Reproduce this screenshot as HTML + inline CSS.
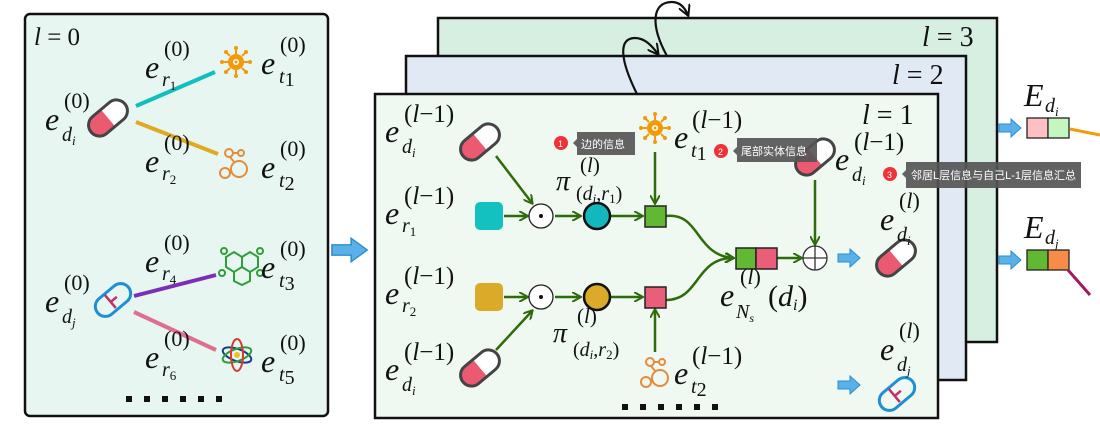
<!DOCTYPE html>
<html><head><meta charset="utf-8"><style>
html,body{margin:0;padding:0;background:#fff;width:1100px;height:430px;overflow:hidden}
svg text{font-family:"Liberation Serif",serif;font-style:italic;fill:#111}
.e{font-size:32px}.sb{font-size:20px}.sp{font-size:22px;font-style:normal}.n{font-style:normal}
.tip{font-family:"Liberation Sans","Noto Sans CJK SC",sans-serif;font-style:normal;font-size:11px;fill:#fff}
</style></head><body>
<svg width="1100" height="430" viewBox="0 0 1100 430" xmlns="http://www.w3.org/2000/svg">
<defs>
<marker id="ga" markerWidth="10" markerHeight="10" refX="8" refY="5" orient="auto" markerUnits="userSpaceOnUse"><path d="M0,0 L9,5 L0,10" fill="none" stroke="#2e6b0a" stroke-width="2"/></marker>
<marker id="ka" markerWidth="12" markerHeight="12" refX="10" refY="6" orient="auto" markerUnits="userSpaceOnUse"><path d="M0,0 L11,6 L0,12" fill="none" stroke="#111" stroke-width="2"/></marker>
<g id="pill"><g transform="rotate(-40)"><rect x="-22" y="-11" width="44" height="22" rx="11" fill="#fff"/><path d="M0,-10 L-11,-10 A10,10 0 0 0 -11,10 L0,10Z" fill="#ec5a72"/><rect x="-22" y="-11" width="44" height="22" rx="11" fill="none" stroke="#444" stroke-width="3"/></g></g>
<g id="bpill"><g transform="rotate(-40)"><rect x="-20" y="-10" width="40" height="20" rx="10" fill="none" stroke="#1f8fd4" stroke-width="3"/><path d="M-3,-9 V8 M-3,0 H5" stroke="#c0306a" stroke-width="2.5"/></g></g>
<g id="virus" fill="#f39a0b"><circle r="8"/><circle r="3" fill="#fff"/><circle r="1.5"/><g stroke="#f39a0b" stroke-width="2"><path d="M0,-8V-14M0,8V14M-8,0H-14M8,0H14M6,6L10,10M-6,6L-10,10M6,-6L10,-10M-6,-6L-10,-10"/></g><circle cx="0" cy="-14" r="2"/><circle cx="0" cy="14" r="2"/><circle cx="-14" cy="0" r="2"/><circle cx="14" cy="0" r="2"/><circle cx="10" cy="10" r="2"/><circle cx="-10" cy="10" r="2"/><circle cx="10" cy="-10" r="2"/><circle cx="-10" cy="-10" r="2"/></g>
<g id="mol" fill="none" stroke="#e38d3c" stroke-width="2"><circle cx="-6" cy="-10" r="4"/><circle cx="6" cy="-10" r="3"/><circle cx="4" cy="6" r="8"/><circle cx="-10" cy="10" r="5"/><path d="M-2,-10H3M-5,-6L0,0M-5,10H-4"/></g>
<g id="blue"><path d="M0,-4H12V-9L22,0L12,9V4H0Z" fill="#5ab1e8" stroke="#2a8ed0" stroke-width="1"/></g>
</defs>

<!-- left panel -->
<rect x="25" y="14" width="303" height="402" rx="5" fill="#e8f6f2" stroke="#111" stroke-width="2.5"/>
<text x="34" y="45" style="font-size:25px">l<tspan class="n"> = 0</tspan></text>
<line x1="136" y1="106" x2="215" y2="72" stroke="#12bfbf" stroke-width="4"/>
<line x1="136" y1="122" x2="218" y2="154" stroke="#ddaa22" stroke-width="4"/>
<line x1="134" y1="296" x2="216" y2="275" stroke="#7a2fb5" stroke-width="4"/>
<line x1="134" y1="312" x2="216" y2="350" stroke="#dd7090" stroke-width="4"/>
<use href="#pill" x="108" y="118"/>
<use href="#bpill" x="113" y="300"/>
<use href="#virus" x="236" y="62"/>
<use href="#mol" x="235" y="163"/>
<g fill="none" stroke="#2e9e3a" stroke-width="2" transform="translate(238,265)"><path d="M-12,-8 L-4,-13 L4,-8 L4,2 L-4,7 L-12,2Z M4,-8 L12,-13 L20,-8 L20,2 L12,7 L4,2 M-4,7 L-4,16 L4,20 L12,16 L12,7"/><circle cx="-14" cy="-14" r="3"/><circle cx="22" cy="-14" r="3"/><circle cx="-16" cy="8" r="3"/><circle cx="22" cy="8" r="3"/></g>
<g transform="translate(237,355)" fill="none" stroke-width="2"><ellipse rx="15" ry="6" stroke="#1b3a8a" transform="rotate(20)"/><ellipse rx="15" ry="6" stroke="#2e9e3a" transform="rotate(-20)"/><ellipse rx="6" ry="16" stroke="#d63b2b"/><circle r="3" fill="#f0c020" stroke="none"/></g>

<!-- left labels -->
<text x="45" y="130" class="e">e</text><text x="62" y="141" class="sb">d<tspan font-size="13" dy="4">i</tspan></text><text x="64" y="108" class="sp">(0)</text>
<text x="45" y="312" class="e">e</text><text x="62" y="323" class="sb">d<tspan font-size="13" dy="4">j</tspan></text><text x="64" y="290" class="sp">(0)</text>
<text x="145" y="78" class="e">e</text><text x="162" y="86" class="sb">r<tspan class="n" font-size="13" dy="4">1</tspan></text><text x="164" y="56" class="sp">(0)</text>
<text x="145" y="172" class="e">e</text><text x="162" y="180" class="sb">r<tspan class="n" font-size="13" dy="4">2</tspan></text><text x="164" y="150" class="sp">(0)</text>
<text x="145" y="272" class="e">e</text><text x="162" y="280" class="sb">r<tspan class="n" font-size="13" dy="4">4</tspan></text><text x="164" y="250" class="sp">(0)</text>
<text x="145" y="368" class="e">e</text><text x="162" y="376" class="sb">r<tspan class="n" font-size="13" dy="4">6</tspan></text><text x="164" y="346" class="sp">(0)</text>
<text x="261" y="74" class="e">e</text><text x="279" y="83" class="sb">t<tspan class="n" dy="3">1</tspan></text><text x="280" y="52" class="sp">(0)</text>
<text x="261" y="178" class="e">e</text><text x="279" y="187" class="sb">t<tspan class="n" dy="3">2</tspan></text><text x="280" y="156" class="sp">(0)</text>
<text x="261" y="278" class="e">e</text><text x="279" y="287" class="sb">t<tspan class="n" dy="3">3</tspan></text><text x="280" y="256" class="sp">(0)</text>
<text x="261" y="372" class="e">e</text><text x="279" y="381" class="sb">t<tspan class="n" dy="3">5</tspan></text><text x="280" y="350" class="sp">(0)</text>
<g fill="#111"><rect x="126" y="396" width="6" height="6"/><rect x="144" y="396" width="6" height="6"/><rect x="162" y="396" width="6" height="6"/><rect x="180" y="396" width="6" height="6"/><rect x="198" y="396" width="6" height="6"/><rect x="216" y="396" width="6" height="6"/></g>

<g transform="translate(332,250) scale(1.6,1.3)"><use href="#blue"/></g>

<!-- stacked layers -->
<rect x="438" y="18" width="559" height="324" fill="#d6efe1" stroke="#111" stroke-width="2.5"/>
<text x="922" y="46" style="font-size:28px">l<tspan class="n"> = 3</tspan></text>
<rect x="406" y="56" width="560" height="324" fill="#e1eaf4" stroke="#111" stroke-width="2.5"/>
<text x="892" y="84" style="font-size:28px">l<tspan class="n"> = 2</tspan></text>
<path d="M637,94 C620,60 618,38 635,38 C645,38 652,46 658,54" fill="none" stroke="#111" stroke-width="2.2" marker-end="url(#ka)"/>
<path d="M667,56 C650,25 652,2 672,2 C680,2 685,8 688,15" fill="none" stroke="#111" stroke-width="2.2" marker-end="url(#ka)"/>
<rect x="375" y="94" width="563" height="324" fill="#eff8f1" stroke="#111" stroke-width="2.5"/>
<text x="862" y="124" style="font-size:28px">l<tspan class="n"> = 1</tspan></text>

<!-- green arrows -->
<g stroke="#2e6b0a" stroke-width="2.5" fill="none" marker-end="url(#ga)">
<line x1="496" y1="156" x2="532" y2="203"/>
<line x1="504" y1="216" x2="527" y2="216"/>
<line x1="555" y1="216" x2="580" y2="216"/>
<line x1="611" y1="216" x2="642" y2="216"/>
<line x1="655" y1="152" x2="655" y2="203"/>
<line x1="496" y1="350" x2="532" y2="311"/>
<line x1="504" y1="297" x2="527" y2="297"/>
<line x1="555" y1="297" x2="580" y2="297"/>
<line x1="611" y1="297" x2="642" y2="297"/>
<line x1="655" y1="352" x2="655" y2="310"/>
<path d="M666,216 C700,212 695,255 733,258"/>
<path d="M666,300 C700,300 695,258 733,258"/>
<line x1="777" y1="258" x2="801" y2="258"/>
<line x1="815" y1="180" x2="815" y2="244"/>
</g>
<rect x="475" y="202" width="28" height="28" rx="5" fill="#14c1c1"/>
<rect x="475" y="283" width="28" height="28" rx="5" fill="#dbaa28"/>
<g fill="#fff" stroke="#222" stroke-width="1.3"><circle cx="541" cy="216" r="12"/><circle cx="541" cy="297" r="12"/></g>
<circle cx="541" cy="216" r="2" fill="#111"/><circle cx="541" cy="297" r="2" fill="#111"/>
<circle cx="597" cy="216" r="13" fill="#12b8bd" stroke="#111" stroke-width="2.5"/>
<circle cx="597" cy="297" r="13" fill="#dbaa28" stroke="#111" stroke-width="2.5"/>
<rect x="645" y="206" width="21" height="21" fill="#62b832" stroke="#222" stroke-width="1.5"/>
<rect x="645" y="287" width="21" height="21" fill="#eb5e79" stroke="#222" stroke-width="1.5"/>
<rect x="736" y="248" width="20" height="21" fill="#62b832" stroke="#222" stroke-width="1.5"/>
<rect x="756" y="248" width="21" height="21" fill="#eb5e79" stroke="#222" stroke-width="1.5"/>
<circle cx="815" cy="258" r="12" fill="#fff" stroke="#333" stroke-width="1.3"/>
<path d="M803,258H827M815,246V270" stroke="#333" stroke-width="1.3"/>
<use href="#pill" x="480" y="142"/>
<use href="#pill" x="480" y="368"/>
<use href="#pill" x="815" y="157"/>
<use href="#pill" x="896" y="258"/>
<use href="#bpill" x="897" y="394"/>
<use href="#virus" x="655" y="128"/>
<use href="#mol" x="656" y="372"/>
<use href="#blue" x="838" y="258"/>
<use href="#blue" x="838" y="385"/>

<!-- main labels -->
<text x="385" y="142" class="e">e</text><text x="402" y="153" class="sb">d<tspan font-size="13" dy="4">i</tspan></text><text x="404" y="122" class="sp" style="font-size:25px">(<tspan font-style="italic">l</tspan>−1)</text>
<text x="385" y="224" class="e">e</text><text x="402" y="232" class="sb">r<tspan class="n" font-size="13" dy="4">1</tspan></text><text x="404" y="204" class="sp" style="font-size:25px">(<tspan font-style="italic">l</tspan>−1)</text>
<text x="385" y="304" class="e">e</text><text x="402" y="312" class="sb">r<tspan class="n" font-size="13" dy="4">2</tspan></text><text x="404" y="284" class="sp" style="font-size:25px">(<tspan font-style="italic">l</tspan>−1)</text>
<text x="385" y="380" class="e">e</text><text x="402" y="391" class="sb">d<tspan font-size="13" dy="4">i</tspan></text><text x="404" y="360" class="sp" style="font-size:25px">(<tspan font-style="italic">l</tspan>−1)</text>
<text x="674" y="148" class="e">e</text><text x="691" y="157" class="sb">t<tspan class="n" dy="3">1</tspan></text><text x="692" y="128" class="sp" style="font-size:25px">(<tspan font-style="italic">l</tspan>−1)</text>
<text x="674" y="384" class="e">e</text><text x="691" y="393" class="sb">t<tspan class="n" dy="3">2</tspan></text><text x="692" y="364" class="sp" style="font-size:25px">(<tspan font-style="italic">l</tspan>−1)</text>
<text x="835" y="170" class="e">e</text><text x="852" y="181" class="sb">d<tspan font-size="13" dy="4">i</tspan></text><text x="854" y="150" class="sp" style="font-size:25px">(<tspan font-style="italic">l</tspan>−1)</text>
<text x="880" y="230" class="e">e</text><text x="897" y="241" class="sb">d<tspan font-size="13" dy="4">i</tspan></text><text x="899" y="208" class="sp">(<tspan font-style="italic">l</tspan>)</text>
<text x="880" y="360" class="e">e</text><text x="897" y="371" class="sb">d<tspan font-size="13" dy="4">j</tspan></text><text x="899" y="338" class="sp">(<tspan font-style="italic">l</tspan>)</text>
<text x="720" y="306" class="e">e</text><text x="736" y="318" class="sb" font-size="18">N<tspan font-size="12" dy="4">s</tspan></text><text x="740" y="284" class="sp">(<tspan font-style="italic">l</tspan>)</text>
<text x="768" y="306" style="font-size:30px"><tspan class="n">(</tspan>d<tspan font-size="16" dy="4">i</tspan><tspan class="n" dy="-4">)</tspan></text>
<text x="556" y="190" style="font-size:28px">π</text><text x="580" y="172" class="sp" style="font-size:21px">(<tspan font-style="italic">l</tspan>)</text><text x="576" y="200" class="sp" style="font-size:20px">(<tspan font-style="italic">d</tspan><tspan font-size="13" font-style="italic" dy="3">i</tspan><tspan dy="-3">,</tspan><tspan font-style="italic">r</tspan><tspan font-size="13" dy="3">1</tspan><tspan dy="-3">)</tspan></text>
<text x="553" y="342" style="font-size:28px">π</text><text x="577" y="323" class="sp" style="font-size:21px">(<tspan font-style="italic">l</tspan>)</text><text x="573" y="356" class="sp" style="font-size:20px">(<tspan font-style="italic">d</tspan><tspan font-size="13" font-style="italic" dy="3">i</tspan><tspan dy="-3">,</tspan><tspan font-style="italic">r</tspan><tspan font-size="13" dy="3">2</tspan><tspan dy="-3">)</tspan></text>
<g fill="#111"><rect x="622" y="404" width="6" height="6"/><rect x="640" y="404" width="6" height="6"/><rect x="658" y="404" width="6" height="6"/><rect x="676" y="404" width="6" height="6"/><rect x="694" y="404" width="6" height="6"/><rect x="712" y="404" width="6" height="6"/></g>

<!-- right outputs -->
<use href="#blue" x="999" y="128"/>
<use href="#blue" x="999" y="260"/>
<rect x="1027" y="118" width="21" height="20" fill="#ffc0c4" stroke="#222" stroke-width="1.3"/>
<rect x="1048" y="118" width="21" height="20" fill="#c4f7c0" stroke="#222" stroke-width="1.3"/>
<rect x="1027" y="250" width="21" height="20" fill="#62b832" stroke="#222" stroke-width="1.3"/>
<rect x="1048" y="250" width="21" height="20" fill="#f78c48" stroke="#222" stroke-width="1.3"/>
<line x1="1070" y1="129" x2="1100" y2="135" stroke="#f39a0b" stroke-width="3"/>
<line x1="1068" y1="270" x2="1090" y2="295" stroke="#a01a60" stroke-width="3"/>
<text x="1024" y="106" style="font-size:32px">E</text><text x="1045" y="112" class="sb">d<tspan font-size="13" dy="4">i</tspan></text>
<text x="1024" y="238" style="font-size:32px">E</text><text x="1045" y="244" class="sb">d<tspan font-size="13" dy="4">j</tspan></text>

<!-- tooltips -->
<circle cx="561" cy="143" r="7" fill="#ee3236"/><text x="558" y="147" class="tip" style="font-size:9px">1</text>
<path d="M573,143 L577,139 V132 H635 V155 H577 V147Z" fill="#555" opacity="0.92"/><text x="581" y="148" class="tip">边的信息</text>
<circle cx="721" cy="151" r="7" fill="#ee3236"/><text x="718" y="155" class="tip" style="font-size:9px">2</text>
<path d="M733,151 L737,147 V138 H817 V162 H737 V155Z" fill="#555" opacity="0.92"/><text x="741" y="155" class="tip">尾部实体信息</text>
<circle cx="890" cy="174" r="7" fill="#ee3236"/><text x="887" y="178" class="tip" style="font-size:9px">3</text>
<path d="M902,174 L906,170 V162 H1081 V188 H906 V178Z" fill="#555" opacity="0.92"/><text x="911" y="179" class="tip">邻居L层信息与自己L-1层信息汇总</text>
</svg>
</body></html>
